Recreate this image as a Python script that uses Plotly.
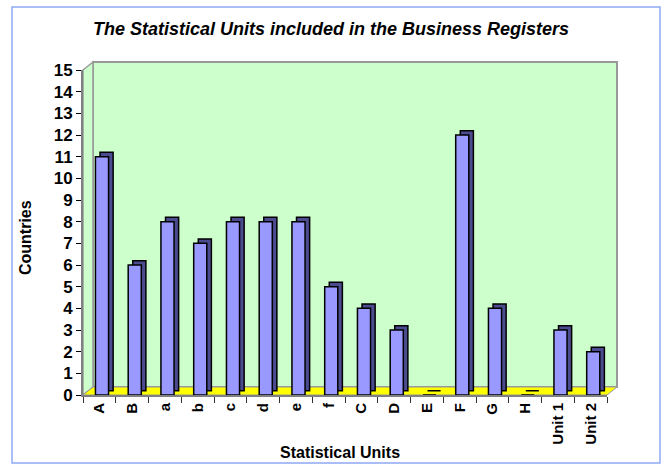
import plotly.graph_objects as go

categories = ["A", "B", "a", "b", "c", "d", "e", "f", "C", "D", "E", "F", "G", "H", "Unit 1", "Unit 2"]
countries = [11, 6, 8, 7, 8, 8, 8, 5, 4, 3, 0, 12, 4, 0, 3, 2]

W, H = 662, 466
# plot region in pixels
L, R, T, B = 83, 617, 62, 395
DX, DY = 10, 8  # 3d depth offset of back wall
pw, ph = R - L, B - T


def px(x):
    return (x - L) / pw


def py(y):
    return (B - y) / ph


narrow = "Liberation Sans Narrow, Arial Narrow, Liberation Sans, Arial, sans-serif"
sans = "Liberation Sans, Arial, sans-serif"

fig = go.Figure()

# fake depth: dark side/top behind the front face
fig.add_trace(go.Bar(
    x=categories, y=countries, base=0.2, offset=0.02, width=0.4,
    marker=dict(color="#4B4B8F", line=dict(color="black", width=1.5)),
    xaxis="x2", yaxis="y2", hoverinfo="skip", showlegend=False,
))
fig.add_trace(go.Bar(
    x=categories, y=countries, offset=-0.12, width=0.4,
    marker=dict(color="#9999FF", line=dict(color="black", width=1.5)),
    xaxis="x2", yaxis="y2", name="Countries", showlegend=False,
))

wall_x = [px(L + DX), 1]
wall_y = [py(B - DY), 1]
front_x = [0, px(R - DX)]
front_y = [0, py(T + DY)]

shapes = [
    # outer frame
    dict(type="rect", xref="paper", yref="paper", x0=px(12), x1=px(660), y0=py(463), y1=py(7),
         line=dict(color="#8FA8F5", width=1.5), fillcolor="rgba(0,0,0,0)", layer="below"),
    # back wall
    dict(type="rect", xref="paper", yref="paper", x0=wall_x[0], x1=wall_x[1], y0=wall_y[0], y1=wall_y[1],
         line=dict(color="#999999", width=2), fillcolor="#CCFFCC", layer="below"),
    # left side wall
    dict(type="path", xref="paper", yref="paper",
         path=f"M {px(L)},{py(B)} L {px(L)},{py(T + DY)} L {px(L + DX)},{py(T)} L {px(L + DX)},{py(B - DY)} Z",
         line=dict(color="#999999", width=1.5), fillcolor="#CCFFCC", layer="below"),
    # floor
    dict(type="path", xref="paper", yref="paper",
         path=f"M {px(L)},{py(B)} L {px(R - DX)},{py(B)} L {px(R)},{py(B - DY)} L {px(L + DX)},{py(B - DY)} Z",
         line=dict(color="#999999", width=1), fillcolor="#FFFF00", layer="below"),
]

annotations = [
    dict(text="<b>Countries</b>", xref="paper", yref="paper", x=px(25), y=py(238),
         xanchor="center", yanchor="middle",
         textangle=-90, showarrow=False, font=dict(family=narrow, size=16, color="black")),
    dict(text="<b>Statistical Units</b>", xref="paper", yref="paper", x=px(340), y=py(452),
         xanchor="center", yanchor="middle",
         showarrow=False, font=dict(family=narrow, size=16, color="black")),
]

fig.update_layout(
    width=W, height=H,
    margin=dict(l=L, r=W - R, t=T, b=H - B, autoexpand=False),
    paper_bgcolor="white", plot_bgcolor="rgba(0,0,0,0)",
    shapes=shapes, annotations=annotations,
    title=dict(text="<b><i>The Statistical Units included in the Business Registers</i></b>",
               x=0.5, xref="container", y=1 - 29 / H, yref="container", yanchor="middle",
               font=dict(family=narrow, size=18, color="black")),
    # back wall grid
    xaxis=dict(domain=wall_x, range=[0, 1], visible=False, anchor="y"),
    yaxis=dict(domain=wall_y, range=[0, 15], showgrid=True, gridcolor="#C0C0C0", gridwidth=1.5,
               showticklabels=False, ticks="", showline=False, zeroline=False, anchor="x"),
    # front axes with the bars
    xaxis2=dict(domain=front_x, anchor="y2", type="category", tickangle=-90, automargin=False,
                tickson="boundaries", ticks="outside", ticklen=6, tickcolor="#333333",
                showline=True, linecolor="#808080", linewidth=2, showgrid=False,
                tickfont=dict(family=sans, size=15, color="black")),
    yaxis2=dict(domain=front_y, anchor="x2", range=[0, 15], dtick=1, ticks="outside", ticklen=5,
                automargin=False, tickcolor="black", showline=True, linecolor="#808080", linewidth=2,
                showgrid=False, zeroline=False,
                tickfont=dict(family=sans, size=17, color="black")),
    barmode="overlay",
)
fig.update_xaxes(tickprefix="<b>", ticksuffix="</b>", selector=dict(anchor="y2"))
fig.update_yaxes(tickprefix="<b>", ticksuffix="</b>", selector=dict(anchor="x2"))

# drop the browser's default body margin so the figure sits at the window origin
fig.write_html("out.html", config={"displayModeBar": False},
               post_script="document.body.style.margin='0';")
